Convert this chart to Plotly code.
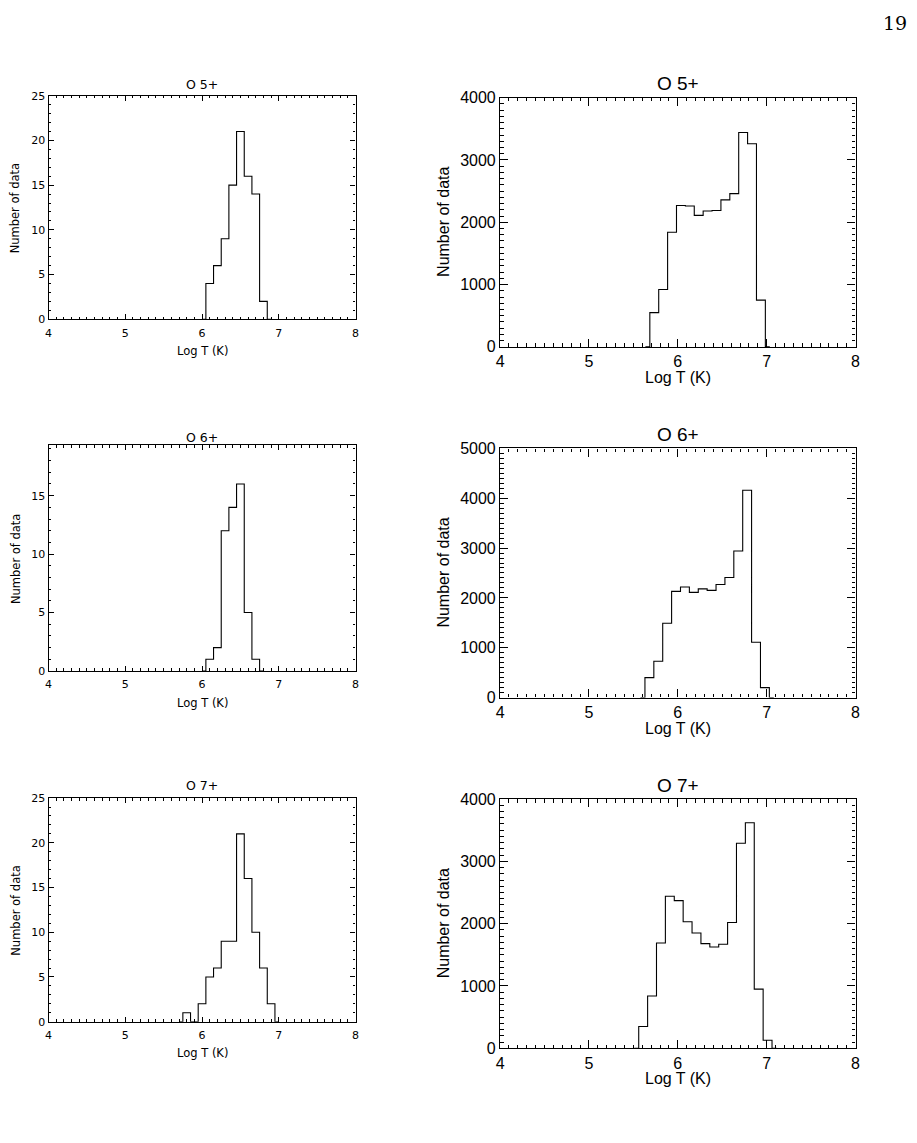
import plotly.graph_objects as go

W, H = 917, 1143

# ---------------- data (bin centres in Log T, counts) ----------------
left_o5_logT = [6.0, 6.1, 6.2, 6.3, 6.4, 6.5, 6.6, 6.7, 6.8, 6.9]
left_o5_count = [0, 4, 6, 9, 15, 21, 16, 14, 2, 0]

left_o6_logT = [6.0, 6.1, 6.2, 6.3, 6.4, 6.5, 6.6, 6.7, 6.8]
left_o6_count = [0, 1, 2, 12, 14, 16, 5, 1, 0]

left_o7_logT = [5.7, 5.8, 5.9, 6.0, 6.1, 6.2, 6.3, 6.4, 6.5, 6.6, 6.7, 6.8, 6.9, 7.0]
left_o7_count = [0, 1, 0, 2, 5, 6, 9, 9, 21, 16, 10, 6, 2, 0]

right_o5_logT = [5.635, 5.735, 5.835, 5.935, 6.035, 6.135, 6.235, 6.335, 6.435,
                 6.535, 6.635, 6.735, 6.835, 6.935, 7.035]
right_o5_count = [0, 550, 920, 1840, 2270, 2260, 2110, 2180, 2190, 2360, 2460,
                  3440, 3260, 750, 0]

right_o6_logT = [5.58, 5.68, 5.78, 5.88, 5.98, 6.08, 6.18, 6.28, 6.38, 6.48,
                 6.58, 6.68, 6.78, 6.88, 6.98, 7.08]
right_o6_count = [0, 400, 730, 1490, 2130, 2220, 2110, 2180, 2150, 2270, 2410,
                  2940, 4160, 1110, 200, 0]

right_o7_logT = [5.51, 5.61, 5.71, 5.81, 5.91, 6.01, 6.11, 6.21, 6.31, 6.41,
                 6.51, 6.61, 6.71, 6.81, 6.91, 7.01, 7.11]
right_o7_count = [0, 350, 840, 1690, 2440, 2370, 2030, 1850, 1680, 1625, 1670,
                  2020, 3290, 3620, 950, 130, 0]

titles = ["O 5+", "O 6+", "O 7+"]
x_title = "Log T (K)"
y_title = "Number of data"
left_yranges = [[0, 25], [0, 19.3], [0, 25]]
right_yranges = [[0, 4000], [0, 5000], [0, 4000]]
page_number = "19"

# ---------------- layout geometry (pixels) ----------------
def px_x(p):
    return p / W

def px_y(p):
    return 1 - p / H

left_x = (45, 355)
right_x = (501, 860)
left_rows = [(89, 316), (444, 673), (802, 1029)]
right_rows = [(91, 344), (447, 700), (803, 1056)]
left_title_y = [77.5, 436, 789.5]
right_title_y = [77, 433, 789.5]

LEFT_FONT = "DejaVu Sans"
RIGHT_FONT = "Liberation Sans"

fig = go.Figure()
annotations = []

panels = [
    (left_o5_logT, left_o5_count), (left_o6_logT, left_o6_count), (left_o7_logT, left_o7_count),
    (right_o5_logT, right_o5_count), (right_o6_logT, right_o6_count), (right_o7_logT, right_o7_count),
]

for i, (xs, ys) in enumerate(panels):
    n = i + 1
    side = "left" if i < 3 else "right"
    row = i % 3
    xa = "x" if n == 1 else f"x{n}"
    ya = "y" if n == 1 else f"y{n}"
    fig.add_trace(go.Scatter(
        x=xs, y=ys, mode="lines", line=dict(shape="hvh", color="black", width=1.1),
        xaxis=xa, yaxis=ya, showlegend=False, hoverinfo="skip"))

    if side == "left":
        xd = left_x
        yd = left_rows[row]
        font = dict(family=LEFT_FONT, size=11, color="black")
        yrange = left_yranges[row]
        ydt, ymin = 5, 1
        majlen, minlen, lw = 5, 2.5, 1.2
        tsize, asize = 12.5, 11.5
        title_y = left_title_y[row]
        ytitle_x = 12
        xtitle_off = 32
        standoff_x = 3
    else:
        xd = right_x
        yd = right_rows[row]
        font = dict(family=RIGHT_FONT, size=16, color="black")
        yrange = right_yranges[row]
        ydt, ymin = 1000, 100
        majlen, minlen, lw = 8, 3.5, 1.3
        tsize, asize = 19, 16
        title_y = right_title_y[row]
        ytitle_x = 444
        xtitle_off = 31
        standoff_x = 0

    common = dict(showline=True, linecolor="black", linewidth=lw, mirror="allticks",
                  ticks="inside", tickcolor="black", tickwidth=1, ticklen=majlen,
                  showgrid=False, zeroline=False, tickfont=font, fixedrange=True)
    fig.update_layout(**{
        ("xaxis" if n == 1 else f"xaxis{n}"): dict(
            domain=[px_x(xd[0]), px_x(xd[1])], anchor=ya, range=[4, 8],
            tick0=4, dtick=1, ticklabelstandoff=standoff_x,
            minor=dict(ticks="inside", dtick=0.1, tick0=4, ticklen=minlen,
                       tickcolor="black", tickwidth=1, showgrid=False),
            **common),
        ("yaxis" if n == 1 else f"yaxis{n}"): dict(
            domain=[px_y(yd[1]), px_y(yd[0])], anchor=xa, range=yrange,
            tick0=0, dtick=ydt,
            minor=dict(ticks="inside", dtick=ymin, tick0=0, ticklen=minlen,
                       tickcolor="black", tickwidth=1, showgrid=False),
            **common),
    })

    cx = (xd[0] + xd[1]) / 2
    fam = font["family"]
    annotations.append(dict(text=titles[row], x=px_x(cx), y=px_y(title_y), xref="paper", yref="paper",
                            xanchor="center", yanchor="middle", showarrow=False,
                            font=dict(family=fam, size=tsize, color="black")))
    annotations.append(dict(text=x_title, x=px_x(cx), y=px_y(yd[1] + xtitle_off), xref="paper",
                            yref="paper", xanchor="center", yanchor="middle", showarrow=False,
                            font=dict(family=fam, size=asize, color="black")))
    annotations.append(dict(text=y_title, x=px_x(ytitle_x), y=px_y((yd[0] + yd[1]) / 2), xref="paper",
                            yref="paper", xanchor="center", yanchor="middle", showarrow=False,
                            textangle=-90, font=dict(family=fam, size=asize, color="black")))

annotations.append(dict(text=page_number, x=px_x(900), y=px_y(15), xref="paper", yref="paper",
                        xanchor="center", yanchor="middle", showarrow=False,
                        font=dict(family="DejaVu Serif", size=19, color="black")))

fig.update_layout(width=W, height=H, margin=dict(l=0, r=0, t=0, b=0),
                  paper_bgcolor="white", plot_bgcolor="white",
                  annotations=annotations, showlegend=False)

fig.write_html("out.html")
